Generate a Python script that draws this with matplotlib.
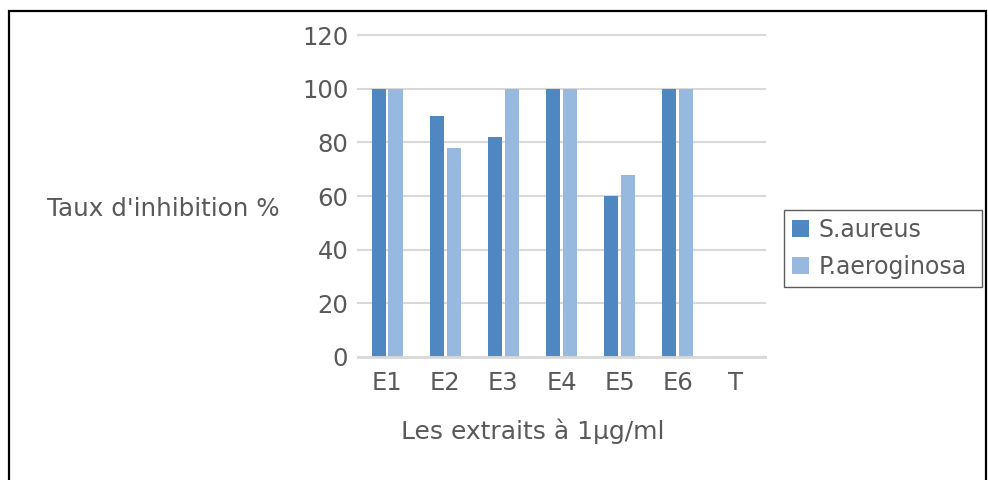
import numpy as np
import matplotlib.pyplot as plt
from matplotlib.patches import Rectangle

categories = ['E1', 'E2', 'E3', 'E4', 'E5', 'E6', 'T']
s_aureus = [100, 90, 82, 100, 60, 100, 0]
p_aeroginosa = [100, 78, 100, 100, 68, 100, 0]
yticks = [0, 20, 40, 60, 80, 100, 120]

txt = '#595959'
dark = '#4f88c0'
light = '#97b9e0'

fig = plt.figure(figsize=(9.88, 4.8), dpi=100)
# outer frame, bottom edge falls outside the image
fig.patches.append(Rectangle((8.5 / 988, -0.05), (986 - 8.5) / 988, 1.05 - 10.5 / 480,
                             transform=fig.transFigure, fill=False,
                             edgecolor='black', linewidth=1.6))

ax = fig.add_axes([358 / 988, 1 - 357 / 480, (765 - 358) / 988, (357 - 35) / 480])

x = np.arange(len(categories))
w = 0.245
ax.bar(x - 0.145, s_aureus, w, color=dark, label='S.aureus', zorder=3)
ax.bar(x + 0.145, p_aeroginosa, w, color=light, label='P.aeroginosa', zorder=3)

ax.set_xlim(-0.5, len(categories) - 0.5)
ax.set_ylim(0, 120)
ax.set_yticks(yticks)
ax.set_xticks(x)
ax.set_xticklabels(categories)
ax.tick_params(length=0, labelsize=17.5, colors=txt)
ax.tick_params(axis='y', pad=7)
ax.tick_params(axis='x', pad=10)
ax.grid(axis='y', color='#d9d9d9', linewidth=1.5, zorder=0)
for l in ax.get_ygridlines():
    l.set_clip_on(False)
for s in ['top', 'right', 'left']:
    ax.spines[s].set_visible(False)
ax.spines['bottom'].set_color('#d9d9d9')
ax.spines['bottom'].set_linewidth(2)
ax.spines['bottom'].set_zorder(4)

ax.set_xlabel('Les extraits à 1µg/ml', fontsize=18, color=txt)
ax.xaxis.set_label_coords((533 - 358) / 407, -(431 - 357) / 322)
ax.xaxis.label.set_va('center')
fig.text(47 / 988, 1 - 209 / 480, "Taux d'inhibition %", fontsize=17.7,
         color=txt, ha='left', va='center')

leg = ax.legend(loc='center', mode='expand',
                bbox_to_anchor=(784 / 988, 1 - 290 / 480, 198 / 988, 83 / 480),
                bbox_transform=fig.transFigure, fontsize=17, frameon=True,
                fancybox=False, handlelength=0.7, handleheight=0.7,
                handletextpad=0.4, borderpad=0.35, labelspacing=0.55,
                borderaxespad=0)
leg.get_frame().set_edgecolor('#333333')
leg.get_frame().set_linewidth(1)
for t in leg.get_texts():
    t.set_color(txt)

fig.savefig('out.png', dpi=100)
